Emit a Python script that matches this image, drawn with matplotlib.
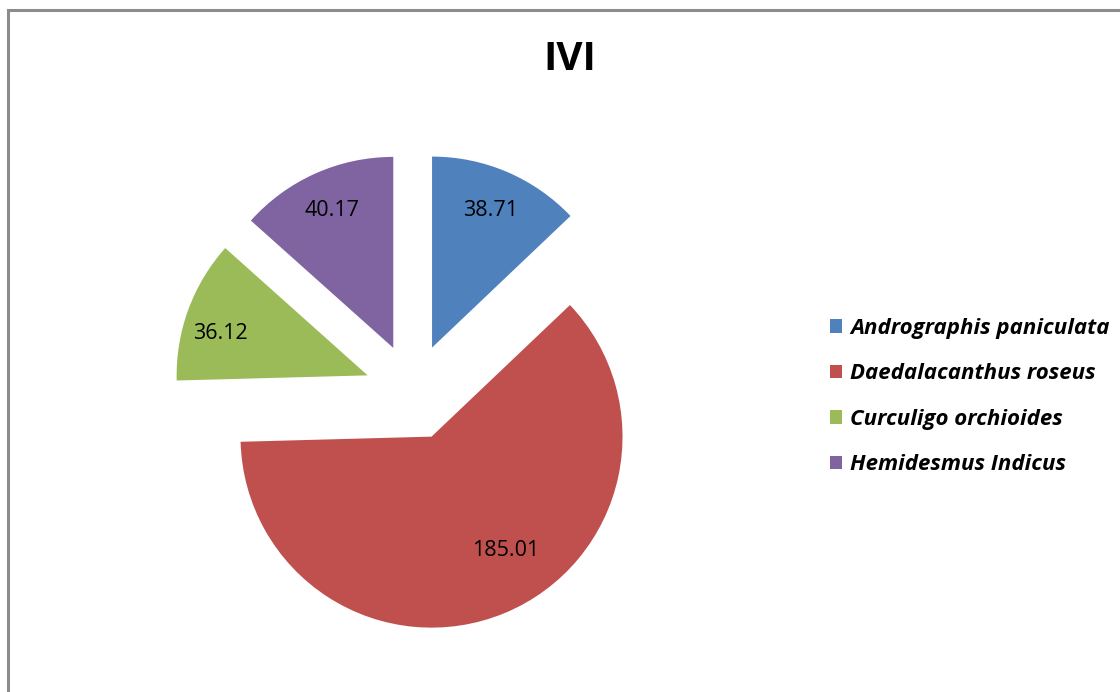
import numpy as np
import matplotlib.pyplot as plt
from matplotlib.patches import Patch, Rectangle

species = ["Andrographis paniculata", "Daedalacanthus roseus",
           "Curculigo orchioides", "Hemidesmus Indicus"]
ivi = [38.71, 185.01, 36.12, 40.17]
colors = ["#4F81BD", "#C0504D", "#9BBB59", "#8064A2"]
title = "IVI"

W, H = 1120, 692
fig = plt.figure(figsize=(W / 100, H / 100), dpi=100)
fig.patch.set_facecolor("white")

# chart frame (runs off the right and bottom edges)
fig.add_artist(Rectangle((8 / W, -0.05), 1.2, 1 - 10 / H + 0.05,
                         transform=fig.transFigure, fill=False,
                         edgecolor="#8c8c8c", linewidth=2.2))

# pie axes: centre at (413, 392) px, unit radius = 191 px
cx, cy, R = 413, 392, 191
half = 260
ax = fig.add_axes([(cx - half) / W, (H - cy - half) / H, 2 * half / W, 2 * half / H])
ax.set_aspect("equal")
ax.axis("off")

total = sum(ivi)
wedges, _, autotexts = ax.pie(
    ivi, colors=colors, startangle=90, counterclock=False,
    explode=[0.253] * len(ivi), radius=1.0,
    autopct=lambda p: f"{p * total / 100:.2f}", pctdistance=0.78,
    textprops=dict(fontsize=15.5, family="Open Sans", color="black"),
)
ax.set_xlim(-half / R, half / R)
ax.set_ylim(-half / R, half / R)

# label placement per slice: (angle in degrees, distance from slice apex)
label_pos = [(67, 0.78), (-57, 0.71), (164, 0.80), (114, 0.79)]
for w, t, (a, d) in zip(wedges, autotexts, label_pos):
    wc = w.center
    r = np.deg2rad(a)
    t.set_position((wc[0] + d * np.cos(r), wc[1] + d * np.sin(r)))

fig.text(570 / W, 1 - 60 / H, title, ha="center", va="center",
         fontsize=29, fontweight="bold", family="Open Sans")

handles = [Patch(facecolor=c, edgecolor="none") for c in colors]
leg = fig.legend(handles, species, loc="upper left",
                 bbox_to_anchor=(810 / W, 1 - 298 / H),
                 frameon=False, handlelength=0.55, handleheight=0.55,
                 handletextpad=0.36, labelspacing=1.1,
                 prop=dict(family="Open Sans", weight="bold", style="italic", size=16))

fig.savefig("out.png", dpi=100, facecolor="white")
